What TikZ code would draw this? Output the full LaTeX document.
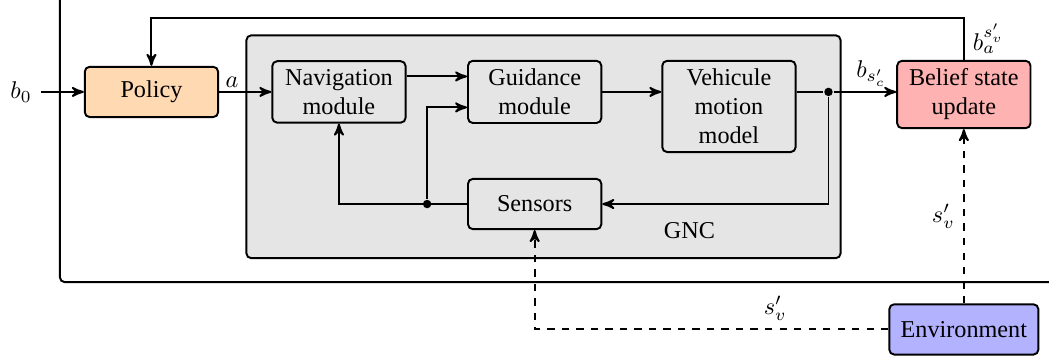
\documentclass[tikz,border=0pt]{standalone}
\usepackage{fontspec}
\setmainfont{Liberation Serif}
\usetikzlibrary{arrows,positioning,calc,fit,backgrounds}
\tikzset
{
    block/.style    = {draw=black, thick, rounded corners=2pt, align=center, minimum width=55.1pt, minimum height=0.73cm},
    module/.style   = {block, fill=gray!20},
    junction/.style = {circle, fill=black, inner sep=0pt, minimum size=3.5pt}
}

\begin{document}
\begin{tikzpicture}[->,>=stealth',thick]
    \useasboundingbox (-62.6pt,-110.8pt) rectangle (371pt,38pt);
    \clip (-62.6pt,-110.8pt) rectangle (371pt,38pt);

    % blocks
    \node [block, fill=orange!30] (policy) at (0,0) {Policy};
    \node [left=17.8pt of policy] (b0) {$b_0$};
    \node [module, right=21.6pt of policy] (nav) {Navigation\\module};
    \node [module, right=25pt of nav] (guid) {Guidance\\module};
    \node [module, right=24.4pt of guid.north east, anchor=north west] (veh) {Vehicule\\motion\\model};
    \node [module, below=22.3pt of guid] (sens) {Sensors};
    \node [block, fill=red!30, right=41.2pt of veh.north east, anchor=north west] (belief) {Belief state\\update};
    \node [block, fill=blue!30, minimum width=61.6pt, below=72pt of belief] (env) {Environment};

    % junctions
    \node [junction] (jR) at ($(veh.east |- guid.east)+(13.2pt,0)$) {};
    \node [junction] (jL) at ($(sens.west)+(-16.5pt,0)$) {};

    % frames
    \coordinate (gncA) at ($(nav.north west)+(-10.3pt,10.3pt)$);
    \coordinate (gncB) at ($(veh.east |- sens.south)+(18.2pt,-11.6pt)$);
    \begin{scope}[on background layer]
        \node [draw=black, thick, rounded corners=2pt, fill=gray!20, inner sep=0pt, fit=(gncA)(gncB)] (gnc) {};
        \draw [thick, rounded corners=2pt] ($(gnc.south -| policy.west)+(-9.9pt,-9.5pt)$) rectangle (400pt,60pt);
    \end{scope}
    \node (gnclabel) at ($(sens.south east)+(36pt,0)$) {GNC};

    % connectors
    \draw (b0) -- (policy);
    \draw (policy) -- node [pos=0.25, above, inner sep=1.5pt] {$a$} (nav);
    \draw ($(nav.east)+(0,6.4pt)$) -- ($(guid.west)+(0,6.4pt)$);
    \draw (guid.east) -- (guid.east -| veh.west);
    \draw [-] (guid.east -| veh.east) -- (jR);
    \draw (jR) -- node [pos=0.6, above, inner sep=2pt] {$b_{s'_c}$} (jR -| belief.west);
    \draw (jR) |- (sens.east);
    \draw (sens.west) -| (nav.south);
    \draw (jL) |- ($(guid.west)+(0,-6.4pt)$);
    \draw (belief.north) -- node [right] {$b_a^{s'_v}$} ++(0,17.4pt) -| (policy.north);
    \draw [dashed] (env.north) -- node [left] {$s'_v$} (env.north |- belief.south);
    \draw [dashed] (env.west) -| node [pos=0.16, above] {$s'_v$} (sens.south);
\end{tikzpicture}
\end{document}
